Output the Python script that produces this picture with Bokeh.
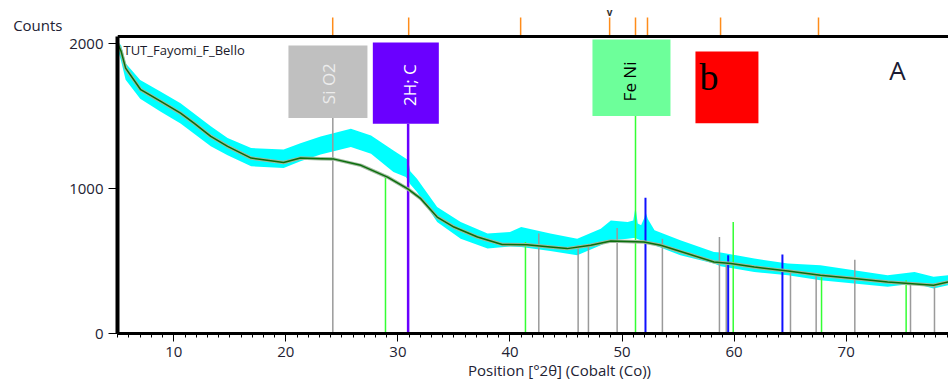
from bokeh.plotting import figure
from bokeh.models import Range1d, LinearAxis, FixedTicker, Label, BoxAnnotation, Span
from bokeh.core.properties import value
from bokeh.embed import file_html
from bokeh.resources import INLINE

# ---------------- data ----------------
# smoothed background (dark green line)
bg_x = [5.0, 5.3, 5.7, 7.05, 8.84, 10.6, 11.8, 13.3, 14.8, 16.9, 19.8, 21.3, 23.1, 24.3, 26.7,
        29.07, 30.85, 32.04, 33.5, 35.0, 37.1, 39.3, 41.5, 43.6, 45.1, 47.2, 49.0, 51.96, 53.45,
        55.8, 58.2, 59.7, 61.8, 64.8, 67.7, 70.7, 73.7, 77.8, 79.1]
bg_y = [2000, 1948, 1832, 1683, 1602, 1521, 1452, 1361, 1292, 1211, 1181, 1211, 1207, 1204, 1161,
        1080, 1000, 931, 804, 735, 666, 615, 612, 597, 586, 609, 639, 632, 609,
        552, 494, 483, 459, 432, 402, 379, 356, 333, 356]

# measured counts (cyan) as upper / lower envelope
meas_x = [5.0, 5.3, 5.7, 7.0, 8.8, 10.6, 13.3, 14.8, 16.9, 19.8, 21.3, 23.1, 25.8, 27.6, 29.6,
          30.7, 30.9, 31.1, 31.7, 33.5, 35.6, 38.0, 40.0, 41.0, 43.6, 46.0, 48.1, 49.0, 50.5,
          51.0, 51.2, 51.4, 51.7, 52.0, 52.1, 52.3, 52.9, 55.2, 58.2, 58.8, 61.8, 64.8, 67.7,
          70.7, 73.7, 76.1, 77.8, 79.1]
meas_hi = [2010, 1990, 1866, 1750, 1671, 1590, 1430, 1350, 1280, 1271, 1314, 1360, 1414, 1367, 1264,
           1209, 1200, 1120, 1069, 873, 770, 690, 700, 735, 690, 655, 724, 781, 770,
           780, 873, 760, 747, 800, 839, 790, 712, 643, 563, 560, 517, 483, 471,
           437, 402, 425, 391, 402]
meas_lo = [1960, 1880, 1752, 1620, 1533, 1450, 1292, 1230, 1154, 1142, 1190, 1235, 1287, 1241, 1115,
           1080, 1060, 1030, 977, 770, 655, 586, 600, 597, 570, 540, 609, 643, 655,
           660, 660, 650, 643, 640, 640, 630, 609, 540, 483, 465, 425, 402, 368,
           345, 322, 345, 310, 333]

# reference pattern sticks
si_x, si_top = [24.19], [1487]
gray_x = [42.57, 46.08, 47.0, 49.56, 53.6, 58.69, 59.3, 65.03, 67.32, 70.77, 75.74, 77.88]
gray_top = [690, 609, 609, 728, 655, 666, 494, 437, 414, 510, 356, 345]
green_x = [28.89, 41.38, 51.2, 59.92, 67.8, 75.35]
green_top = [1087, 632, 1501, 770, 402, 368]
blue_x = [52.09, 59.47, 64.31]
blue_top = [938, 540, 545]
c_x, c_top = [30.91], [1448]

# peak markers along the top
marker_pos = [24.18, 30.96, 40.95, 48.89, 51.2, 52.27, 58.79, 67.53]
flag_pos = [48.89]

x_ticks = [10, 20, 30, 40, 50, 60, 70]
y_ticks = [0, 1000, 2000]

X0, X1 = 4.976, 79.13
Y_AXIS_TOP = 2050
Y1 = 2299
FRAME_H = 333
PPC = FRAME_H / Y1          # pixels per count

FONT = "Open Sans"
TXT = "#222233"

p = figure(width=948, height=383, x_range=Range1d(X0, X1), y_range=Range1d(0, Y1),
           output_backend="svg", toolbar_location=None, title=None,
           min_border_left=117, min_border_right=0, min_border_top=0, min_border_bottom=50)
p.outline_line_color = None
p.xgrid.visible = False
p.ygrid.visible = False

# bottom axis
xa = p.xaxis[0]
xa.ticker = FixedTicker(ticks=x_ticks, minor_ticks=list(range(5, 80)))
xa.axis_line_width = 3
xa.axis_line_color = "black"
xa.major_tick_out = 8
xa.major_tick_in = 0
xa.minor_tick_out = 4
xa.minor_tick_in = 0
xa.major_label_text_font = FONT
xa.major_label_text_font_size = "15px"
xa.major_label_text_color = TXT
xa.major_label_standoff = 5

# x axis title as a label-only axis
xl = LinearAxis(ticker=FixedTicker(ticks=[44.42]),
                major_label_overrides={44.42: "Position [°2θ] (Cobalt (Co))"})
xl.axis_line_color = None
xl.major_tick_line_color = None
xl.minor_tick_line_color = None
xl.major_tick_out = 0
xl.major_label_standoff = 0
xl.major_label_text_font = FONT
xl.major_label_text_font_size = "15px"
xl.major_label_text_color = TXT
p.add_layout(xl, "below")

# left axis
ya = p.yaxis[0]
ya.ticker = FixedTicker(ticks=y_ticks)
ya.bounds = (0, Y_AXIS_TOP)
ya.axis_line_width = 4
ya.axis_line_color = "black"
ya.major_tick_out = 9
ya.major_tick_in = 0
ya.minor_tick_line_color = None
ya.major_label_text_font = FONT
ya.major_label_text_font_size = "15px"
ya.major_label_text_color = TXT
ya.major_label_standoff = 5

# "Counts" as a label-only axis
yl = LinearAxis(ticker=FixedTicker(ticks=[2130]), major_label_overrides={2130: "Counts"})
yl.axis_line_color = None
yl.major_tick_line_color = None
yl.minor_tick_line_color = None
yl.major_tick_out = 0
yl.major_label_standoff = 4
yl.major_label_text_font = FONT
yl.major_label_text_font_size = "15px"
yl.major_label_text_color = TXT
p.add_layout(yl, "left")

# top border and peak markers
p.add_layout(Span(location=Y_AXIS_TOP, dimension="width", line_color="black", line_width=3))
p.segment(x0=marker_pos, y0=[Y_AXIS_TOP + 1 / PPC] * len(marker_pos), x1=marker_pos,
          y1=[Y_AXIS_TOP + 19 / PPC] * len(marker_pos), line_color="#ff8c1a", line_width=1.5)
p.text(x=flag_pos, y=[Y_AXIS_TOP + 18 / PPC], text=["v"], text_font=value(FONT),
       text_font_size="10px", text_font_style="bold", text_color="#333333",
       text_align="center", text_baseline="bottom")

# measured band
p.varea(x=meas_x, y1=meas_lo, y2=meas_hi, fill_color="#00ffff")

# sticks
p.segment(x0=gray_x, y0=[0] * len(gray_x), x1=gray_x, y1=gray_top, line_color="#9a9a9a", line_width=1.5)
p.segment(x0=si_x, y0=[0], x1=si_x, y1=si_top, line_color="#9a9a9a", line_width=1.5)
p.segment(x0=green_x, y0=[0] * len(green_x), x1=green_x, y1=green_top, line_color="#33ff33", line_width=1.5)
p.segment(x0=blue_x, y0=[0] * len(blue_x), x1=blue_x, y1=blue_top, line_color="#1010ff", line_width=2)
p.segment(x0=c_x, y0=[0], x1=c_x, y1=c_top, line_color="#6a00ff", line_width=2.5)

# background curve
p.line(bg_x, bg_y, line_color="#9cb89c", line_width=3.5)
p.line(bg_x, bg_y, line_color="#0b6e0b", line_width=1.5)

# label boxes
p.add_layout(BoxAnnotation(left=20.23, right=27.28, top=1988, bottom=1487,
                           fill_color="#c0c0c0", fill_alpha=1, line_color=None))
p.add_layout(BoxAnnotation(left=27.76, right=33.65, top=2009, bottom=1448,
                           fill_color="#6a00ff", fill_alpha=1, line_color=None))
p.add_layout(BoxAnnotation(left=47.36, right=54.32, top=2030, bottom=1501,
                           fill_color="#6dff9a", fill_alpha=1, line_color=None))
p.add_layout(BoxAnnotation(left=56.55, right=62.17, top=1947, bottom=1452,
                           fill_color="#ff0000", fill_alpha=1, line_color=None))

def box_text(txt, x, y, color):
    p.add_layout(Label(x=x, y=y, text=txt, angle=90, angle_units="deg", text_align="center",
                       text_baseline="middle", text_font=FONT, text_font_size="17px", text_color=color))

box_text("Si O2", 23.8, 1725, "#ececec")
box_text("2H; C", 31.0, 1715, "white")
box_text("Fe Ni", 50.7, 1740, "black")

p.add_layout(Label(x=56.9, y=1774, text="b", text_font="Liberation Serif", text_font_size="38px",
                   text_color="black", text_baseline="alphabetic"))
p.add_layout(Label(x=74.58, y=1816, text="A", text_font=FONT, text_font_size="26px",
                   text_color="#1a1a33", text_align="center", text_baseline="alphabetic"))
p.add_layout(Label(x=5.51, y=1955, text="TUT_Fayomi_F_Bello", text_font=FONT, text_font_size="13px",
                   text_color="#1a1a2a", text_baseline="alphabetic"))

open("out.html", "w").write(file_html(p, INLINE))
